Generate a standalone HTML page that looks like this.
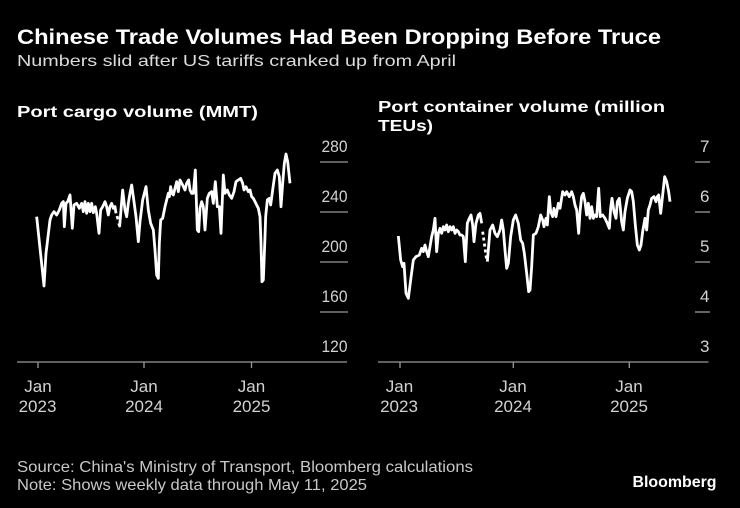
<!DOCTYPE html>
<html>
<head>
<meta charset="utf-8">
<style>
  html, body { margin: 0; padding: 0; background: #000; }
  body { width: 740px; height: 508px; overflow: hidden; }
  svg { display: block; }
  text { font-family: "Liberation Sans", "DejaVu Sans", sans-serif; }
</style>
</head>
<body>
<svg width="740" height="508" viewBox="0 0 740 508" xmlns="http://www.w3.org/2000/svg">
  <rect x="0" y="0" width="740" height="508" fill="#000"/>

  <!-- Header -->
  <text x="17" y="44" font-size="21" font-weight="bold" fill="#ffffff" textLength="644" lengthAdjust="spacingAndGlyphs">Chinese Trade Volumes Had Been Dropping Before Truce</text>
  <text x="17" y="66" font-size="16" fill="#dcdcdc" textLength="439" lengthAdjust="spacingAndGlyphs">Numbers slid after US tariffs cranked up from April</text>

  <!-- Chart titles -->
  <text x="17" y="117" font-size="16" font-weight="bold" fill="#ffffff" textLength="241" lengthAdjust="spacingAndGlyphs">Port cargo volume (MMT)</text>
  <text x="378" y="112" font-size="16" font-weight="bold" fill="#ffffff" textLength="287" lengthAdjust="spacingAndGlyphs">Port container volume (million</text>
  <text x="378" y="131" font-size="16" font-weight="bold" fill="#ffffff" textLength="55" lengthAdjust="spacingAndGlyphs">TEUs)</text>

  <!-- LEFT CHART -->
  <g stroke="#9a9a9a" stroke-width="1.3">
    <line x1="320" y1="162" x2="348" y2="162"/>
    <line x1="320" y1="212" x2="348" y2="212"/>
    <line x1="320" y1="262" x2="348" y2="262"/>
    <line x1="320" y1="312" x2="348" y2="312"/>
    <line x1="17" y1="362" x2="347" y2="362"/>
    <line x1="38" y1="362" x2="38" y2="368"/>
    <line x1="144" y1="362" x2="144" y2="368"/>
    <line x1="251.5" y1="362" x2="251.5" y2="368"/>
  </g>
  <g font-size="17" fill="#d2d2d2" text-anchor="end">
    <text x="347.5" y="152" textLength="26" lengthAdjust="spacingAndGlyphs">280</text>
    <text x="347.5" y="202" textLength="26" lengthAdjust="spacingAndGlyphs">240</text>
    <text x="347.5" y="252" textLength="26" lengthAdjust="spacingAndGlyphs">200</text>
    <text x="347.5" y="302" textLength="26" lengthAdjust="spacingAndGlyphs">160</text>
    <text x="347.5" y="352" textLength="26" lengthAdjust="spacingAndGlyphs">120</text>
  </g>
  <g font-size="17" fill="#d2d2d2" text-anchor="middle">
    <text x="38" y="392">Jan</text>
    <text x="37.5" y="412">2023</text>
    <text x="144" y="392">Jan</text>
    <text x="144" y="412">2024</text>
    <text x="251.5" y="392">Jan</text>
    <text x="251.5" y="412">2025</text>
  </g>
  <g transform="translate(0,90) scale(0.33333)" fill="none" stroke="#ffffff" stroke-width="8.4" stroke-linejoin="round" stroke-linecap="butt">
    <polyline points="110,380 132,588 138,490 150,390 155,375 162,365 170,375 178,360 185,340 190,335 193,410 198,340 203,335 210,315 217,415 222,345 230,340 238,355 245,340 250,365 255,335 260,370 265,340 270,365 275,340 280,368 286,350 290,370 297,430 302,360 308,350 315,335 320,350 325,375 330,350 335,340 340,355 345,350 348,370"/>
    <polyline points="351,378 354,388"/>
    <polyline points="356,400 359,408 363,360 368,300 375,360 380,380 385,340 390,310 395,285 400,320 408,380 415,455 420,395 428,330 438,290 445,360 452,400 460,420 465,480 470,555 475,565 478,460 482,390 488,385 495,350 500,330 505,310 508,320 512,290 516,310 520,315 525,295 530,275 535,305 540,270 548,285 555,300 560,280 566,270 570,300 575,310 580,310 586,240 592,420 596,425 600,355 605,335 610,350 615,420 622,325 628,310 635,305 640,340 646,275 652,350 658,350 663,430 670,255 675,310 682,300 688,315 695,325 702,305 708,275 715,270 722,265 728,280 732,300 738,290 745,305 750,300 755,320 760,325 765,335 770,345 775,355 780,380 783,460 786,575 790,570 795,440 797,380 802,330 808,325 812,345 818,300 825,250 832,240 838,260 843,350 848,280 853,220 858,192 863,215 870,280"/>
  </g>

  <!-- RIGHT CHART -->
  <g stroke="#9a9a9a" stroke-width="1.3">
    <line x1="695" y1="162" x2="710" y2="162"/>
    <line x1="695" y1="212" x2="710" y2="212"/>
    <line x1="695" y1="262" x2="710" y2="262"/>
    <line x1="695" y1="312" x2="710" y2="312"/>
    <line x1="378" y1="362" x2="708.5" y2="362"/>
    <line x1="400" y1="362" x2="400" y2="368"/>
    <line x1="513.3" y1="362" x2="513.3" y2="368"/>
    <line x1="629.3" y1="362" x2="629.3" y2="368"/>
  </g>
  <g font-size="17" fill="#d2d2d2" text-anchor="end">
    <text x="709.5" y="152">7</text>
    <text x="709.5" y="202">6</text>
    <text x="709.5" y="252">5</text>
    <text x="709.5" y="302">4</text>
    <text x="709.5" y="352">3</text>
  </g>
  <g font-size="17" fill="#d2d2d2" text-anchor="middle">
    <text x="399.5" y="392">Jan</text>
    <text x="399" y="412">2023</text>
    <text x="513" y="392">Jan</text>
    <text x="513" y="412">2024</text>
    <text x="629" y="392">Jan</text>
    <text x="629" y="412">2025</text>
  </g>
  <g transform="translate(370,90) scale(0.33333)" fill="none" stroke="#ffffff" stroke-width="8.4" stroke-linejoin="round" stroke-linecap="butt">
    <polyline points="85,438 92,510 98,530 102,520 108,610 115,625 122,570 130,510 138,500 148,495 155,475 160,485 165,465 170,485 175,500 180,470 185,440 190,420 195,385 200,485 205,430 210,415 215,430 220,410 225,420 230,405 235,425 240,410 245,420 250,410 255,430 260,420 265,425 270,435 275,435 280,440 286,515 292,400 298,385 303,375 308,405 312,455 318,400 325,375 330,370 335,400"/>
    <polyline points="338,425 350,510" stroke-dasharray="9,9"/>
    <polyline points="352,515 360,420 368,405 375,430 382,440 390,420 395,390 400,420 405,480 410,535 415,520 422,440 430,390 437,375 445,400 452,450 458,460 463,490 470,550 476,605 480,600 485,530 490,435 498,430 505,410 512,375 518,390 522,410 528,385 532,405 538,320 542,365 548,380 552,355 558,380 565,340 570,355 578,305 585,315 590,305 598,320 605,305 610,320 615,345 620,360 626,430 630,365 635,320 640,310 645,335 650,375 655,340 660,385 665,350 670,385 675,375 680,380 686,295 691,380 698,375 705,385 712,400 718,415 722,355 726,325 732,365 738,385 742,335 748,325 755,395 760,420 765,365 772,325 780,300 785,305 790,335 796,405 802,465 808,480 813,465 818,425 825,385 830,420 835,360 840,345 845,325 852,320 858,335 862,320 866,315 872,370 878,315 884,260 890,275 896,305 900,335"/>
  </g>

  <!-- Footer -->
  <text x="17" y="472" font-size="16" fill="#c8c8c8" textLength="456" lengthAdjust="spacingAndGlyphs">Source: China's Ministry of Transport, Bloomberg calculations</text>
  <text x="17" y="490" font-size="16" fill="#c8c8c8" textLength="350" lengthAdjust="spacingAndGlyphs">Note: Shows weekly data through May 11, 2025</text>
  <text x="632.5" y="487" font-size="16" font-weight="bold" fill="#ffffff" textLength="84" lengthAdjust="spacingAndGlyphs">Bloomberg</text>
</svg>
</body>
</html>
